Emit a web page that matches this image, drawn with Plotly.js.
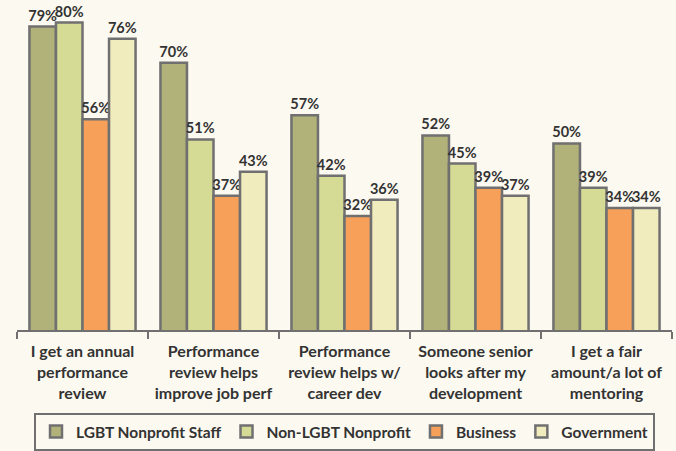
<!DOCTYPE html>
<html>
<head>
<meta charset="utf-8">
<script src="https://cdn.plot.ly/plotly-3.0.1.min.js"></script>
<style>html,body{margin:0;padding:0;background:#FCF9F0;}#chart{width:676px;height:451px;}</style>
</head>
<body>
<div id="chart"></div>
<script>
const categories = [
  "I get an annual<br>performance<br>review",
  "Performance<br>review helps<br>improve job perf",
  "Performance<br>review helps w/<br>career dev",
  "Someone senior<br>looks after my<br>development",
  "I get a fair<br>amount/a lot of<br>mentoring"
];
const seriesNames = ["LGBT Nonprofit Staff", "Non-LGBT Nonprofit", "Business", "Government"];
const lgbtNonprofit = [79, 70, 57, 52, 50];
const nonLgbtNonprofit = [80, 51, 42, 45, 39];
const business = [56, 37, 32, 39, 34];
const government = [76, 43, 36, 37, 34];
const seriesValues = [lgbtNonprofit, nonLgbtNonprofit, business, government];
const colors = ["#B0B27A", "#D5DB94", "#F6A05A", "#F1ECBD"];

const font = "Lato, 'Open Sans', sans-serif";
const traces = seriesValues.map((vals, i) => ({
  type: "bar",
  name: seriesNames[i],
  x: categories,
  y: vals,
  text: vals.map(v => v + "%"),
  textposition: "outside",
  constraintext: "none",
  cliponaxis: true,
  textfont: {family: font, size: 14.5, color: "#333333", weight: "bold"},
  marker: {color: colors[i], line: {color: "#707070", width: 2.5}},
  hoverinfo: "none"
}));

const layout = {
  width: 676, height: 451,
  paper_bgcolor: "#FCF9F0",
  plot_bgcolor: "#FCF9F0",
  margin: {l: 17, r: 4, t: 0, b: 120},
  barmode: "group",
  bargap: 0.19,
  bargroupgap: 0,
  showlegend: true,
  legend: {
    orientation: "h",
    x: 0.5, xanchor: "center",
    y: -0.251, yanchor: "top",
    bordercolor: "#707070", borderwidth: 2,
    bgcolor: "#FCF9F0",
    font: {family: font, size: 15.5, color: "#333333", weight: "bold"},
    traceorder: "normal"
  },
  xaxis: {
    showline: true, linecolor: "#707070", linewidth: 2,
    ticks: "outside", tickson: "boundaries", ticklen: 7, tickwidth: 2, tickcolor: "#707070",
    ticklabelstandoff: 6,
    tickfont: {family: font, size: 16, color: "#333333", weight: "bold"},
    showgrid: false, zeroline: false, fixedrange: true
  },
  yaxis: {
    range: [3.7, 85.6], visible: false, showgrid: false, zeroline: false, fixedrange: true
  }
};

Plotly.newPlot("chart", traces, layout, {staticPlot: true, displayModeBar: false});
</script>
</body>
</html>
